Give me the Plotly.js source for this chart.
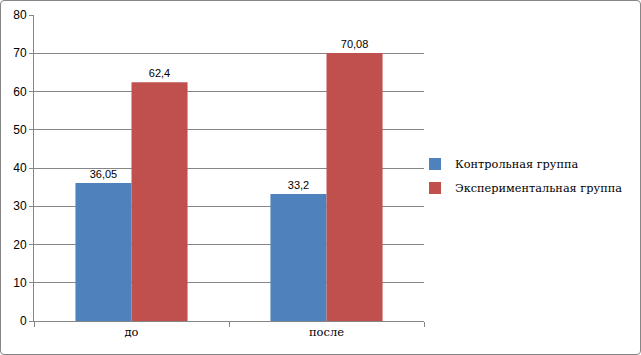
<!DOCTYPE html>
<html>
<head>
<meta charset="utf-8">
<script src="https://cdn.plot.ly/plotly-3.0.1.min.js"></script>
<style>
body{margin:0;padding:0;background:#fff;}
#wrap{position:relative;width:641px;height:355px;}
#chart{width:641px;height:355px;}
#frame{position:absolute;left:0;top:0;width:639px;height:353px;border:1px solid #868686;border-radius:4px;pointer-events:none;}
</style>
</head>
<body>
<div id="wrap"><div id="chart"></div><div id="frame"></div></div>
<script>
var categories = ["до", "после"];
var seriesNames = ["Контрольная группа", "Экспериментальная группа"];
var controlValues = [36.05, 33.2];
var experimentalValues = [62.4, 70.08];
var yTicks = [0, 10, 20, 30, 40, 50, 60, 70, 80];

function fmt(v){ return String(v).replace('.', ','); }

var SERIF = "DejaVu Serif";
var SANS = "Liberation Sans";
var labelFont = {family: SANS, size: 11, color: "#000"};

var traces = [
  {type: "bar", name: seriesNames[0], x: categories, y: controlValues, legendgroup: "a",
   marker: {color: "#4F81BD"}, text: controlValues.map(fmt), textposition: "outside",
   textfont: labelFont, cliponaxis: false, hoverinfo: "skip"},
  {type: "bar", name: seriesNames[1], x: categories, y: experimentalValues, legendgroup: "b",
   marker: {color: "#C0504D"}, text: experimentalValues.map(fmt), textposition: "outside",
   textfont: labelFont, cliponaxis: false, hoverinfo: "skip"}
];

var layout = {
  width: 641, height: 355,
  margin: {l: 34, r: 217, t: 15, b: 34},
  paper_bgcolor: "#fff", plot_bgcolor: "#fff",
  barmode: "group", bargap: 0.425, bargroupgap: 0,
  showlegend: true,
  legend: {x: 0.977, y: 0.474, xanchor: "left", yanchor: "middle",
    traceorder: "grouped", tracegroupgap: 5,
    font: {family: SERIF, size: 11.3, color: "#000"},
    itemwidth: 30, bgcolor: "rgba(0,0,0,0)"},
  xaxis: {type: "category", showline: true, linecolor: "#868686", linewidth: 1,
    ticks: "outside", tickson: "boundaries", ticklen: 5, tickcolor: "#868686",
    showgrid: false, zeroline: false,
    tickfont: {family: SERIF, size: 11.5, color: "#000"}},
  yaxis: {range: [0, 80], tickvals: yTicks, ticktext: yTicks.map(String),
    showline: true, linecolor: "#868686", linewidth: 1,
    ticks: "outside", ticklen: 4, tickcolor: "#868686",
    showgrid: true, gridcolor: "#868686", gridwidth: 1, zeroline: false,
    tickfont: {family: SANS, size: 12, color: "#000"}},
  font: {family: SANS}
};

Plotly.newPlot("chart", traces, layout, {staticPlot: true, displayModeBar: false});
</script>
</body>
</html>
